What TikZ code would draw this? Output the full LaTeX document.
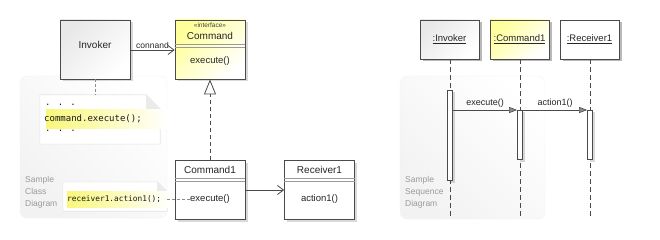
\documentclass[tikz,border=0pt]{standalone}
\usepackage{fontspec}
\setmainfont{Liberation Sans}
\newfontfamily\codefont{DejaVu Sans Mono}
\usetikzlibrary{arrows.meta,shadows,calc}
\definecolor{edge}{HTML}{4A4A4A}
\definecolor{yl}{HTML}{FFFF9A}
\definecolor{hl}{HTML}{F9F77A}
\definecolor{lbl}{HTML}{9A9A9A}
\tikzset{
  shd/.style={drop shadow={opacity=0.15,shadow xshift=2.5pt,shadow yshift=-2.5pt,fill=black}},
  box/.style={draw=edge,line width=0.8pt,rectangle,inner sep=0pt,minimum width=70pt,minimum height=59pt,shd},
  graybox/.style={box,shading=axis,top color=black!9,bottom color=white,shading angle=45},
  yellowbox/.style={box,shading=axis,top color=yl,bottom color=white,shading angle=45},
  whitebox/.style={box,fill=white},
  lifebox/.style={box,minimum width=59pt,minimum height=39pt},
  txt/.style={inner sep=0pt,font=\fontsize{9.5}{11}\selectfont,text=black!85},
  small/.style={inner sep=0pt,font=\fontsize{6.5}{7}\selectfont,text=black!75},
  sep/.style={draw=black!40,line width=0.6pt},
  panel/.style={rounded corners=7pt,draw=black!5,shading=axis,top color=white,bottom color=black!5,shading angle=-45},
  gtxt/.style={inner sep=0pt,font=\fontsize{8.5}{12}\selectfont,text=lbl,align=left},
  notebox/.style={inner sep=0pt},
  notepath/.style={draw=black!10,fill=white,line width=0.6pt},
  hlbar/.style={shading=axis,left color=hl,right color=white},
  code/.style={inner sep=0pt,font=\codefont\fontsize{9}{10}\selectfont,text=black!90},
  assoc/.style={draw=edge,line width=0.8pt,-{Straight Barb[length=6pt,width=9pt,line width=0.8pt]}},
  realize/.style={draw=edge,line width=0.8pt,dash pattern=on 4pt off 3pt,-{Triangle[open,length=15pt,width=12pt,line width=0.8pt,fill=white]}},
  notelink/.style={draw=black!45,line width=0.6pt,dash pattern=on 3pt off 2pt},
  lifeline/.style={draw=edge,line width=0.8pt,dash pattern=on 5pt off 3pt},
  act/.style={draw=edge,fill=white,line width=0.8pt,inner sep=0pt,minimum width=5pt,shd},
  msg/.style={draw=edge,line width=0.8pt,-{Triangle[length=8pt,width=6pt,fill=black!45,line width=0.6pt]}},
}
\begin{document}
\begin{tikzpicture}[x=1pt,y=-1pt]
\useasboundingbox (0,0) rectangle (660,240);
% background panels
\path[panel] (20,76) rectangle (167,218);
\path[panel] (400,76) rectangle (545,219);
\node[gtxt,anchor=north west] (lblc) at (25,176) {Sample\\Class\\Diagram};
\node[gtxt,anchor=north west] (lbls) at (405,176) {Sample\\Sequence\\Diagram};

% ---------- class diagram ----------
\node[graybox] (inv) at (95,49.5) {};
\node[txt] (invname) at (95,45) {\fontsize{10}{12}\selectfont Invoker};

\node[yellowbox] (cmd) at (210,49.5) {};
\node[small] (cmdst) at (210,25.5) {«interface»};
\node[txt] (cmdname) at (210,35.5) {\fontsize{10}{12}\selectfont Command};
\draw[sep] (cmd.west |- 0,44) -- (cmd.east |- 0,44);
\draw[sep] (cmd.west |- 0,47) -- (cmd.east |- 0,47);
\node[txt] (cmdop) at (210,61.5) {execute()};

\node[whitebox] (c1) at (210,189.5) {};
\node[txt] (c1name) at (210,170) {\fontsize{10}{12}\selectfont Command1};
\draw[sep] (c1.west |- 0,178) -- (c1.east |- 0,178);
\draw[sep] (c1.west |- 0,181) -- (c1.east |- 0,181);
\node[txt] (c1op) at (210,199) {execute()};

\node[whitebox] (r1) at (319.5,189.5) {};
\node[txt] (r1name) at (319.5,170) {\fontsize{10}{12}\selectfont Receiver1};
\draw[sep] (r1.west |- 0,178) -- (r1.east |- 0,178);
\draw[sep] (r1.west |- 0,181) -- (r1.east |- 0,181);
\node[txt] (r1op) at (319.5,199) {action1()};

% associations
\draw[assoc] (inv.east |- 0,50) -- (cmd.west |- 0,50) node[pos=0.5,above=1pt,inner sep=0pt,font=\fontsize{8.5}{10}\selectfont,text=black!85] (assoclbl) {connand};
\draw[assoc] (c1.east |- 0,190) -- (r1.west |- 0,190);
\draw[realize] (c1.north) -- (cmd.south);

% note 1
\node[notebox,minimum width=120pt,minimum height=49pt] (n1) at (100,119.5) {};
\path[notepath] (n1.north west) -- ($(n1.north east)+(-14,0)$) -- ($(n1.north east)+(0,14)$) -- (n1.south east) -- (n1.south west) -- cycle;
\path[fill=black!8] ($(n1.north east)+(-14,0)$) -- ($(n1.north east)+(-14,14)$) -- ($(n1.north east)+(0,14)$) -- cycle;
\path[hlbar] (46,110) rectangle (168,129);
\node[code,anchor=west] (n1a) at (45,105) {. . .};
\node[code,anchor=west] (n1b) at (44,119) {command.execute();};
\node[code,anchor=west] (n1c) at (45,131) {. . .};
\draw[notelink] (inv.south) -- (n1.north -| inv.south);

% note 2
\node[notebox,minimum width=104pt,minimum height=29pt] (n2) at (115,196.5) {};
\path[notepath] (n2.north west) -- ($(n2.north east)+(-10,0)$) -- ($(n2.north east)+(0,10)$) -- (n2.south east) -- (n2.south west) -- cycle;
\path[fill=black!8] ($(n2.north east)+(-10,0)$) -- ($(n2.north east)+(-10,10)$) -- ($(n2.north east)+(0,10)$) -- cycle;
\path[hlbar] (67,191) rectangle (170,207);
\node[code,anchor=west,font=\codefont\fontsize{7.8}{9}\selectfont] (n2a) at (67,199) {receiver1.action1();};
\draw[notelink] (n2.east |- 0,199) -- (c1op.west);

% ---------- sequence diagram ----------
\node[lifebox,graybox,minimum width=59pt,minimum height=39pt] (linv) at (449.5,39.5) {};
\node[txt] (linvt) at (449.5,39.5) {\underline{:Invoker}};
\node[lifebox,yellowbox,minimum width=59pt,minimum height=39pt] (lcmd) at (519.5,39.5) {};
\node[txt] (lcmdt) at (519.5,39.5) {\underline{:Command1}};
\node[lifebox,whitebox,minimum width=59pt,minimum height=39pt] (lrec) at (589.5,39.5) {};
\node[txt] (lrect) at (589.5,39.5) {\underline{:Receiver1}};

\coordinate (einv) at (450,219);
\coordinate (ecmd) at (520,219);
\coordinate (erec) at (590,219);
\draw[lifeline] (linv.south -| einv) -- (einv);
\draw[lifeline] (lcmd.south -| ecmd) -- (ecmd);
\draw[lifeline] (lrec.south -| erec) -- (erec);

\node[act,minimum height=90pt] (a1) at (450,135) {};
\node[act,minimum height=49pt] (a2) at (520,134.5) {};
\node[act,minimum height=49pt] (a3) at (590,134.5) {};

\draw[msg] (a1.east |- 0,110) -- (a2.west |- 0,110) node[pos=0.5,above=2pt,inner sep=0pt,font=\fontsize{9}{10}\selectfont,text=black!85] (m1) {execute()};
\draw[msg] (a2.east |- 0,110) -- (a3.west |- 0,110) node[pos=0.5,above=2pt,inner sep=0pt,font=\fontsize{9}{10}\selectfont,text=black!85] (m2) {action1()};
\end{tikzpicture}
\end{document}
